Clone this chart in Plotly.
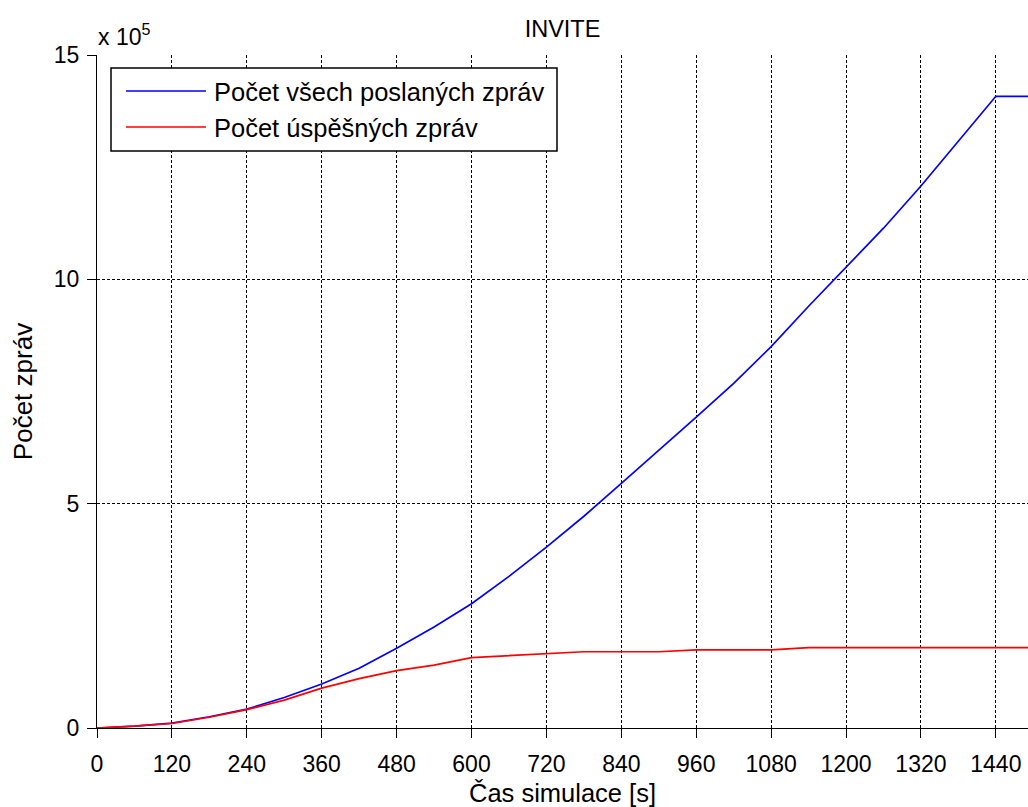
import plotly.graph_objects as go

# Simulation time [s]
time_s = [0, 60, 120, 180, 240, 300, 360, 420, 480, 540, 600, 660, 720, 780,
          840, 900, 960, 1020, 1080, 1140, 1200, 1260, 1320, 1380, 1440, 1500]

# Number of all sent INVITE messages
sent_total = [0, 4000, 11000, 25000, 42000, 68000, 98000, 133000, 178000,
              225000, 277000, 338000, 403000, 472000, 545000, 618000, 693000,
              768000, 850000, 940000, 1028000, 1114000, 1208000, 1308000,
              1408000, 1408000]

# Number of successful INVITE messages
successful = [0, 4000, 10000, 24000, 41000, 62000, 89000, 110000, 128000,
              140000, 157000, 161000, 165000, 170000, 170000, 170000, 174000,
              174000, 174000, 179000, 179000, 179000, 179000, 179000, 179000,
              179000]

y_ticks = [0, 500000, 1000000, 1500000]
y_tick_labels = ["0", "5", "10", "15"]
x_ticks = list(range(0, 1441, 120))

series_names = ["Počet všech poslaných zpráv", "Počet úspěšných zpráv"]
series_colors = ["#0000FF", "#FF0000"]

FONT = "Liberation Sans, Arial, sans-serif"
W, H = 1028, 807
ML, MR, MT, MB = 97, 0, 55, 79
PW, PH = W - ML - MR, H - MT - MB
GRID_DASH = "3px,2px"


def px(x):
    return (x - ML) / PW


def py(y):
    return (H - MB - y) / PH


fig = go.Figure()
for vals, name, col in zip([sent_total, successful], series_names, series_colors):
    fig.add_trace(go.Scatter(x=time_s, y=vals, mode="lines", name=name,
                             line=dict(color=col, width=1.7),
                             showlegend=False))

fig.update_layout(
    width=W, height=H,
    margin=dict(l=ML, r=MR, t=MT, b=MB, autoexpand=False),
    paper_bgcolor="white", plot_bgcolor="white",
    font=dict(family=FONT, size=23, color="black"),
    title=dict(text="INVITE", x=0.5, xref="paper", xanchor="center",
               y=1 - 29 / H, yref="container", yanchor="middle",
               font=dict(family=FONT, size=23.5, color="black")),
    xaxis=dict(range=[0, 1491.5], tickvals=x_ticks, ticks="outside",
               ticklen=9, tickwidth=1, tickcolor="black",
               showline=True, linecolor="black", linewidth=1.2,
               showgrid=True, gridcolor="black", griddash=GRID_DASH, gridwidth=1,
               zeroline=False, automargin=False, ticklabelstandoff=6,
               tickfont=dict(family=FONT, size=23, color="black"),
               title=dict(text="Čas simulace [s]", standoff=8,
                          font=dict(family=FONT, size=25.5, color="black"))),
    yaxis=dict(range=[0, 1500000], tickvals=y_ticks, ticktext=y_tick_labels,
               ticks="outside", ticklen=9, tickwidth=1, tickcolor="black",
               showline=True, linecolor="black", linewidth=1.2,
               showgrid=True, gridcolor="black", griddash=GRID_DASH, gridwidth=1,
               zeroline=False, automargin=False, ticklabelstandoff=3,
               tickfont=dict(family=FONT, size=23, color="black"),
               title=dict(text="Počet zpráv", standoff=13,
                          font=dict(family=FONT, size=26, color="black"))),
)

# Exponent label of the y axis
fig.add_annotation(text="x 10<sup>5</sup>", xref="paper", yref="paper",
                   x=px(96), y=py(52), xanchor="left", yanchor="bottom",
                   showarrow=False, font=dict(family=FONT, size=23, color="black"))

# Legend box
box_l, box_r, box_t, box_b = 111, 557, 68, 151
fig.add_shape(type="rect", xref="paper", yref="paper",
              x0=px(box_l), x1=px(box_r), y0=py(box_b), y1=py(box_t),
              line=dict(color="black", width=1.5), fillcolor="white",
              layer="above")
row_y = [91, 127]
for name, col, ry in zip(series_names, series_colors, row_y):
    fig.add_shape(type="line", xref="paper", yref="paper",
                  x0=px(126), x1=px(206), y0=py(ry), y1=py(ry),
                  line=dict(color=col, width=1.7), layer="above")
    fig.add_annotation(text=name, xref="paper", yref="paper",
                       x=px(212), y=py(ry + 1), xanchor="left", yanchor="middle",
                       showarrow=False,
                       font=dict(family=FONT, size=25.5, color="black"))

fig.write_html("out.html")
